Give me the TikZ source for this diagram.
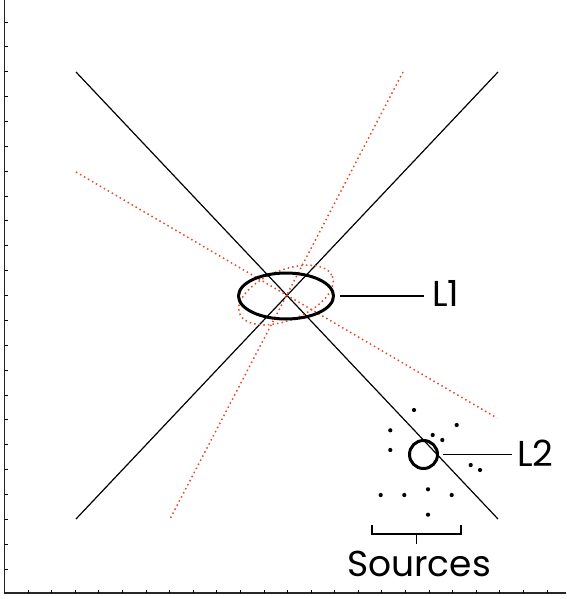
\documentclass[tikz,border=0pt]{standalone}
\usepackage{fontspec}
\setmainfont{Poppins}
\usetikzlibrary{shapes.geometric}
\definecolor{fitred}{RGB}{232,72,40}

\begin{document}
\begin{tikzpicture}[x=1pt,y=-1pt,font=\fontsize{36}{40}\selectfont,
    fitline/.style={fitred,line width=1.5pt,dash pattern=on 1.5pt off 3.1pt},
    lab/.style={anchor=base west,inner sep=0pt}]
  \useasboundingbox (0,0) rectangle (566,599);
  \draw[line width=1.1pt,black!85] (4.5,0) -- (4.5,593) -- (566,593);
  \foreach \k in {0,...,22} {
    \draw[line width=.8pt] (4.5,22+24.86*\k) -- ++(3,0);
    \draw[line width=.8pt] (28+23.59*\k,593) -- ++(0,-3);
  }
  \draw[line width=1.2pt] (76,72) -- (498,519);
  \draw[line width=1.2pt] (76,519) -- (498,72);
  \draw[fitline] (403,72) -- (170,519);
  \draw[fitline] (76,172) -- (497,418);
  \draw[fitline,rotate around={22:(286,295)}] (286,295) ellipse (50 and 25);
  \node[ellipse,draw,line width=3pt,minimum width=95,minimum height=46,inner sep=0pt] (ell1) at (286,296) {};
  \node[lab] (l1) at (432,306) {L1};
  \draw[line width=1.2pt,shorten <=5pt,shorten >=8pt] (ell1.east) -- (ell1.east -| l1.west);
  \foreach \p in {(414,410),(456.7,425),(390.3,430.3),(432.7,435),(442.3,440),(390.3,450),
      (470.7,465),(480,470),(428,489.3),(380.7,495),(404.3,495),(451.7,495),(428,514.7)}
    \fill \p circle (2.1);
  \node[circle,draw,line width=3pt,minimum size=28,inner sep=0pt] (ell2) at (423.5,454.5) {};
  \node[lab] (l2) at (517,466) {L2};
  \draw[line width=1.2pt,shorten <=4pt,shorten >=5pt] (ell2.east) -- (ell2.east -| l2.west);
  \draw[line width=1.2pt] (372,525) -- (372,534) -- (461,534) -- (461,525);
  \coordinate (brk) at (416.5,534);
  \draw[line width=1.2pt] (brk) -- ++(0,10);
  \node[anchor=base,inner sep=0pt] (src) at (419,576) {Sources};
\end{tikzpicture}
\end{document}
